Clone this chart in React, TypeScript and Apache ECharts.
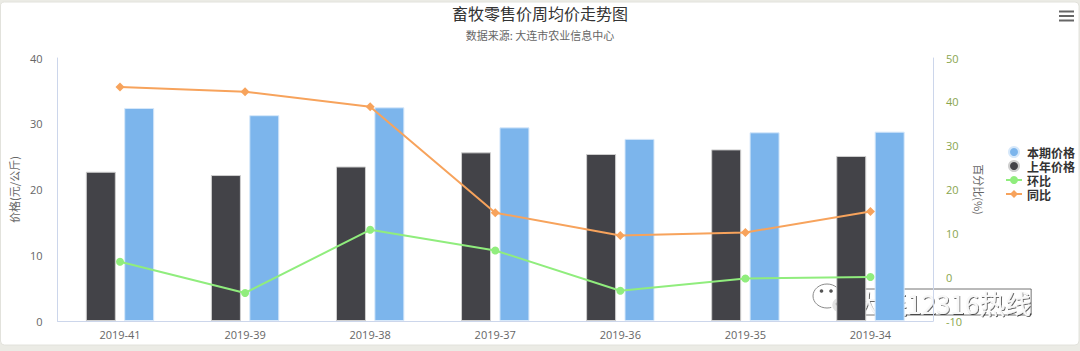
import React, { useEffect, useRef } from "react";
import * as echarts from "echarts";

const categories = ["2019-41", "2019-39", "2019-38", "2019-37", "2019-36", "2019-35", "2019-34"];
const currentPrice = [32.4, 31.3, 32.5, 29.45, 27.7, 28.7, 28.8];
const lastYearPrice = [22.7, 22.2, 23.5, 25.65, 25.4, 26.1, 25.1];
const momChange = [3.5, -3.6, 10.8, 6.1, -3.1, -0.3, 0.05];
const yoyChange = [43.4, 42.3, 38.9, 14.7, 9.5, 10.2, 15.0];
const leftTicks = { min: 0, max: 40, interval: 10 };
const rightTicks = { min: -10, max: 50, interval: 10 };

const FONT = '"Open Sans", "Noto Sans CJK SC", sans-serif';
const CJK = '"Noto Sans CJK SC", sans-serif';

export default function App() {
  const ref = useRef<HTMLDivElement>(null);
  useEffect(() => {
    document.body.style.margin = "0";
    const chart = echarts.init(ref.current!, undefined, { renderer: "svg" });
    chart.setOption({
      animation: false,
      backgroundColor: "#ebebe5",
      textStyle: { fontFamily: FONT },
      title: {
        text: "畜牧零售价周均价走势图",
        subtext: "数据来源: 大连市农业信息中心",
        left: "center",
        top: 0,
        itemGap: 9,
        textStyle: { fontFamily: CJK, fontSize: 16, fontWeight: "normal", color: "#333" },
        subtextStyle: { fontFamily: CJK, fontSize: 11, color: "#666" },
      },
      legend: {
        orient: "vertical",
        left: 1005,
        top: 145,
        padding: 0,
        itemWidth: 16,
        itemHeight: 10,
        itemGap: 0,
        textStyle: { fontFamily: CJK, fontSize: 12, fontWeight: "bold", color: "#333", lineHeight: 14 },
        data: [
          { name: "本期价格", icon: "circle" },
          { name: "上年价格", icon: "circle" },
          { name: "环比" },
          { name: "同比" },
        ],
      },
      grid: { left: 55, right: 147, top: 58, bottom: 30, containLabel: false },
      xAxis: {
        type: "category",
        data: categories,
        boundaryGap: true,
        axisTick: { show: false },
        axisLine: { lineStyle: { color: "#ccd6eb" } },
        axisLabel: { color: "#666", fontSize: 11, margin: 8 },
      },
      yAxis: [
        {
          type: "value",
          ...leftTicks,
          name: "价格(元/公斤)",
          nameLocation: "middle",
          nameGap: 35,
          nameTextStyle: { color: "#666", fontSize: 11, fontFamily: CJK },
          axisLine: { show: true, lineStyle: { color: "#ccd6eb" } },
          axisTick: { show: false },
          splitLine: { show: false },
          axisLabel: { color: "#666", fontSize: 11, margin: 15 },
        },
        {
          type: "value",
          ...rightTicks,
          position: "right",
          name: "百分比(%)",
          nameLocation: "middle",
          nameRotate: -90,
          nameGap: 39,
          nameTextStyle: { color: "#666", fontSize: 11, fontFamily: CJK },
          axisLine: { show: true, lineStyle: { color: "#ccd6eb" } },
          axisTick: { show: false },
          splitLine: { show: false },
          axisLabel: { color: "#89a54e", fontSize: 11, margin: 13 },
        },
      ],
      series: [
        {
          name: "上年价格",
          type: "bar",
          data: lastYearPrice,
          barWidth: 30,
          barGap: "28%",
          itemStyle: { color: "#434348", borderColor: "#cfcfcf", borderWidth: 1 },
        },
        {
          name: "本期价格",
          type: "bar",
          data: currentPrice,
          barWidth: 30,
          barGap: "28%",
          itemStyle: { color: "#7cb5ec", borderColor: "#d6e8fa", borderWidth: 1 },
        },
        {
          name: "环比",
          type: "line",
          yAxisIndex: 1,
          data: momChange,
          symbol: "circle",
          symbolSize: 8,
          lineStyle: { color: "#90ed7d", width: 2 },
          itemStyle: { color: "#90ed7d" },
          z: 4,
        },
        {
          name: "同比",
          type: "line",
          yAxisIndex: 1,
          data: yoyChange,
          symbol: "diamond",
          symbolSize: 9,
          lineStyle: { color: "#f7a35c", width: 2 },
          itemStyle: { color: "#f7a35c" },
          z: 4,
        },
      ],
      graphic: [
        {
          type: "rect",
          z: -10,
          silent: true,
          shape: { x: 0.5, y: 2, width: 1078.5, height: 343, r: 4 },
          style: { fill: "#fff", stroke: "#e2e2dc", lineWidth: 1 },
        },
        { type: "rect", z: 10, shape: { x: 1059, y: 10.5, width: 15, height: 2 }, style: { fill: "#666" } },
        { type: "rect", z: 10, shape: { x: 1059, y: 15, width: 15, height: 2 }, style: { fill: "#666" } },
        { type: "rect", z: 10, shape: { x: 1059, y: 19.5, width: 15, height: 2 }, style: { fill: "#666" } },
        {
          type: "group",
          z: 100,
          children: [
            { type: "ellipse", shape: { cx: 827, cy: 296, rx: 14, ry: 12 }, style: { fill: "#fff", stroke: "#8a8a8a", lineWidth: 1 } },
            { type: "circle", shape: { cx: 821.5, cy: 291, r: 1.8 }, style: { fill: "#555" } },
            { type: "circle", shape: { cx: 831, cy: 291, r: 1.8 }, style: { fill: "#555" } },
            { type: "ellipse", shape: { cx: 841, cy: 305, rx: 9.5, ry: 8.5 }, style: { fill: "#e2e2e2", stroke: "#fff", lineWidth: 1.5 } },
            { type: "circle", shape: { cx: 837.5, cy: 304, r: 1.7 }, style: { fill: "#333" } },
            { type: "circle", shape: { cx: 845, cy: 304, r: 1.7 }, style: { fill: "#333" } },
            {
              type: "text",
              x: 855,
              y: 302,
              style: {
                text: "大连12316热线",
                font: '26px "Noto Sans CJK SC", sans-serif',
                fill: "#f8f8f8",
                verticalAlign: "middle",
                textBorderColor: "rgba(70,70,70,0.75)",
                textBorderWidth: 1,
                textShadowColor: "rgba(0,0,0,0.6)",
                textShadowBlur: 1,
                textShadowOffsetX: 1,
                textShadowOffsetY: 1,
              },
            },
          ],
        },
      ],
    });
    return () => chart.dispose();
  }, []);
  return <div ref={ref} style={{ position: "fixed", left: 0, top: 0, width: 1080, height: 351 }} />;
}
